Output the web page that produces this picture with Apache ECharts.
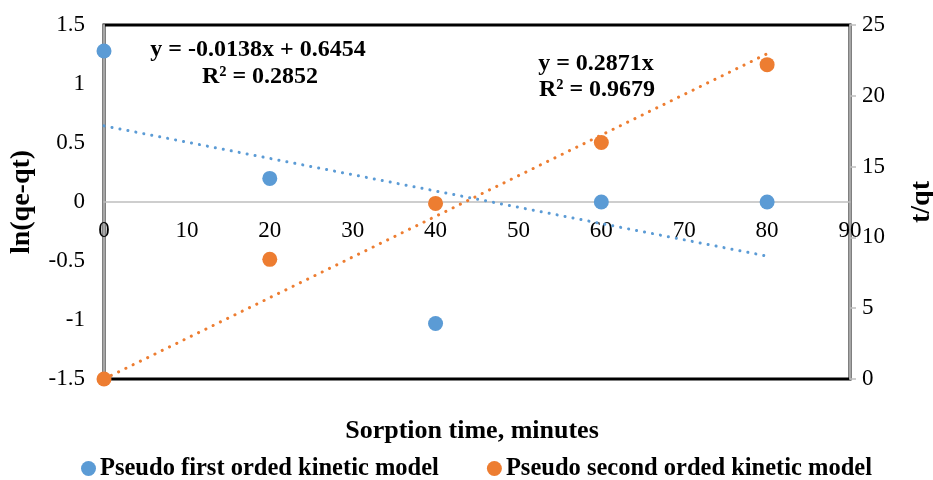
<!DOCTYPE html>
<html><head><meta charset="utf-8">
<script src="https://cdn.jsdelivr.net/npm/echarts@6/dist/echarts.min.js"></script>
<style>html,body{margin:0;padding:0;background:#fff}#c{width:933px;height:480px}</style>
</head><body><div id="c"></div>
<script>
var xTime = [0, 20, 40, 60, 80];
var firstOrder = [1.28, 0.2, -1.03, 0, 0];
var secondOrder = [0, 8.45, 12.4, 16.7, 22.2];
var firstTrend = [[0, 0.6454], [80, -0.4586]];
var secondTrend = [[0, 0], [80, 22.97]];
var eq1 = ['y = -0.0138x + 0.6454', 'R² = 0.2852'];
var eq2 = ['y = 0.2871x', 'R² = 0.9679'];
var xTitle = 'Sorption time, minutes';
var legendNames = ['Pseudo first orded kinetic model', 'Pseudo second orded kinetic model'];

var FONT = '"Liberation Serif", "Times New Roman", serif';
var BLUE = '#5B9BD5', ORANGE = '#ED7D31';
var chart = echarts.init(document.getElementById('c'));
function pairs(xs, ys){ return xs.map(function(x,i){return [x, ys[i]];}); }
var dotted = function(c){ return {color:c, width:3, type:[0.1, 8], cap:'round'}; };
function txt(x, y, t, size){ return {type:'text', x:x, y:y, z:10, style:{text:t, fontFamily:FONT, fontWeight:'bold', fontSize:size, fill:'#000', align:'center', verticalAlign:'middle'}}; }
chart.setOption({
  animation:false,
  textStyle:{fontFamily:FONT},
  grid:{left:104, right:83, top:25, bottom:101, containLabel:false, outerBoundsMode:'none',
        show:true, borderColor:'#000', borderWidth:3, backgroundColor:'transparent'},
  legend:{bottom:-6, left:76, itemGap:48, itemWidth:15, itemHeight:15, icon:'circle',
    data:legendNames, textStyle:{fontFamily:FONT, fontWeight:'bold', fontSize:24.5, color:'#000', padding:[0,0,0,-1]}},
  xAxis:{type:'value', min:0, max:90, interval:10, position:'bottom', offset:-177,
    axisLine:{onZero:false, lineStyle:{color:'#bfbfbf', width:1.5}},
    axisTick:{show:false}, splitLine:{show:false},
    axisLabel:{color:'#000', fontSize:23, fontFamily:FONT, margin:17}},
  yAxis:[
    {type:'value', min:-1.5, max:1.5, interval:0.5, position:'left',
     name:'ln(qe-qt)', nameLocation:'middle', nameGap:68, nameRotate:90,
     nameTextStyle:{fontFamily:FONT, fontWeight:'bold', fontSize:28, color:'#000'},
     axisLine:{show:true, onZero:false, lineStyle:{color:'#a6a6a6', width:2}},
     axisTick:{show:false}, splitLine:{show:false},
     axisLabel:{color:'#000', fontSize:23, fontFamily:FONT, margin:19}},
    {type:'value', min:0, max:25, interval:5, position:'right',
     name:'t/qt', nameLocation:'middle', nameGap:58, nameRotate:90,
     nameTextStyle:{fontFamily:FONT, fontWeight:'bold', fontSize:28, color:'#000'},
     axisLine:{show:true, onZero:false, lineStyle:{color:'#a6a6a6', width:2}},
     axisTick:{show:true, length:6, lineStyle:{color:'#bfbfbf', width:1.5}}, splitLine:{show:false},
     axisLabel:{color:'#000', fontSize:23, fontFamily:FONT, margin:12}}
  ],
  series:[
    {type:'line', data:firstTrend, yAxisIndex:0, symbol:'none', lineStyle:dotted(BLUE), z:3, silent:true},
    {type:'line', data:secondTrend, yAxisIndex:1, symbol:'none', lineStyle:dotted(ORANGE), z:3, silent:true},
    {name:legendNames[0], type:'scatter', yAxisIndex:0, data:pairs(xTime, firstOrder), symbolSize:15, itemStyle:{color:BLUE, opacity:1}, z:5, clip:false},
    {name:legendNames[1], type:'scatter', yAxisIndex:1, data:pairs(xTime, secondOrder), symbolSize:15, itemStyle:{color:ORANGE, opacity:1}, z:5, clip:false}
  ],
  graphic:[
    txt(258, 50, eq1[0], 24), txt(260, 77, eq1[1], 24),
    txt(596, 64, eq2[0], 24), txt(597, 90, eq2[1], 24),
    txt(472, 431, xTitle, 26)
  ]
});
</script></body></html>
